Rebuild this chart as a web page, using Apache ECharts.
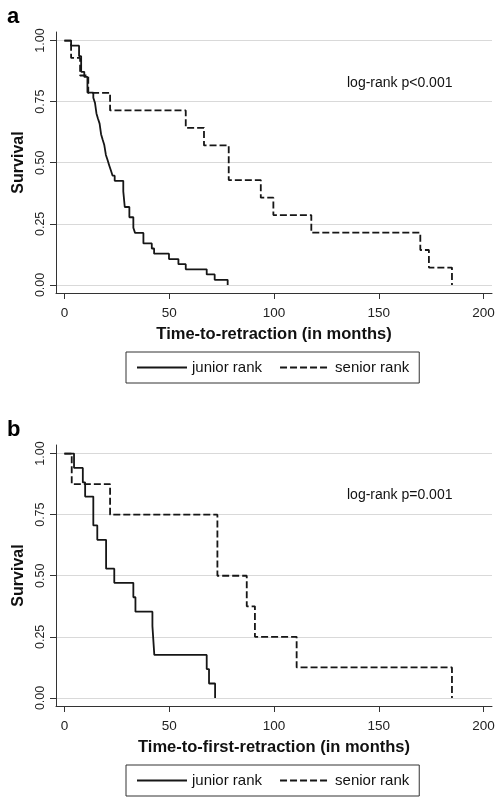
<!DOCTYPE html>
<html>
<head>
<meta charset="utf-8">
<script src="https://cdn.jsdelivr.net/npm/echarts@6/dist/echarts.min.js"></script>
<style>html,body{margin:0;padding:0;background:#fff}#c{width:504px;height:805px}</style>
</head>
<body>
<div id="c"></div>
<script>
// ---- Data ----
const xTicks = [0, 50, 100, 150, 200];
const yTicks = [0, 0.25, 0.5, 0.75, 1];
const seriesNames = ['junior rank', 'senior rank'];
const panelLabels = ['a', 'b'];
const xTitles = ['Time-to-retraction (in months)', 'Time-to-first-retraction (in months)'];
const yTitle = 'Survival';
const pTexts = ['log-rank p<0.001', 'log-rank p=0.001'];

// Panel a: junior rank
const juniorA_t = [0, 3.2, 7.0, 8.0, 9.5, 11.0, 13.8, 14.6, 15.3, 16.0, 16.8, 17.5, 18.2, 19.0, 19.8, 20.6, 21.4, 22.2, 23.0, 24.0, 28.1, 28.8, 31.0, 32.9, 33.7, 37.7, 41.7, 42.8, 49.9, 54.4, 57.9, 67.9, 71.7, 77.9];
const juniorA_s = [1, 0.979, 0.936, 0.872, 0.851, 0.787, 0.766, 0.745, 0.702, 0.681, 0.660, 0.617, 0.596, 0.574, 0.532, 0.511, 0.489, 0.468, 0.447, 0.426, 0.383, 0.319, 0.277, 0.234, 0.213, 0.170, 0.149, 0.128, 0.106, 0.085, 0.064, 0.043, 0.021, 0];
// Panel a: senior rank
const seniorA_t = [0, 3.2, 7.5, 11.4, 21.8, 57.9, 66.6, 78.4, 93.7, 99.7, 117.8, 169.8, 173.9, 184.9];
const seniorA_s = [1, 0.929, 0.857, 0.786, 0.714, 0.643, 0.571, 0.429, 0.357, 0.286, 0.214, 0.143, 0.071, 0];
// Panel b: junior rank
const juniorB_t = [0, 4.6, 8.8, 9.9, 13.8, 15.7, 19.9, 23.8, 32.9, 33.9, 42.0, 42.9, 67.9, 69.0, 71.9];
const juniorB_s = [1, 0.941, 0.882, 0.824, 0.706, 0.647, 0.529, 0.471, 0.412, 0.353, 0.294, 0.176, 0.118, 0.059, 0];
// Panel b: senior rank
const seniorB_t = [0, 3.5, 21.8, 73.0, 87.0, 90.9, 110.8, 184.9];
const seniorB_s = [1, 0.875, 0.75, 0.5, 0.375, 0.25, 0.125, 0];

// ---- Build ----
const zip = (t, s) => t.map((v, i) => [v, s[i]]);
const FONT = '"Liberation Sans", Arial, sans-serif';
const INK = '#161616';
const panelTops = [32, 445];
const GRID_H = 261;

const grids = [], xAxes = [], yAxes = [], series = [], legends = [], graphics = [];
const curves = [[juniorA_t, juniorA_s, seniorA_t, seniorA_s], [juniorB_t, juniorB_s, seniorB_t, seniorB_s]];

panelTops.forEach((top, p) => {
  grids.push({left: 56, right: 12, top: top, height: GRID_H});
  xAxes.push({
    type: 'value', gridIndex: p, min: -4, max: 204,
    axisLine: {show: true, onZero: false, lineStyle: {color: '#333', width: 1}},
    axisTick: {show: true, customValues: xTicks, length: 6, lineStyle: {color: '#333'}},
    axisLabel: {customValues: xTicks, color: '#222', fontFamily: FONT, fontSize: 13.5, margin: 13},
    splitLine: {show: false},
    name: xTitles[p], nameLocation: 'middle', nameGap: 33,
    nameTextStyle: {fontFamily: FONT, fontSize: 16.5, fontWeight: 'bold', color: '#111'}
  });
  yAxes.push({
    type: 'value', gridIndex: p, min: -0.033, max: 1.035,
    axisLine: {show: true, onZero: false, lineStyle: {color: '#333', width: 1}},
    axisTick: {show: true, customValues: yTicks, length: 6, lineStyle: {color: '#333'}},
    axisLabel: {customValues: yTicks, rotate: 90, color: '#222', fontFamily: FONT, fontSize: 12.5, margin: 9,
      formatter: v => v.toFixed(2)},
    splitLine: {show: false},
    name: yTitle, nameLocation: 'middle', nameGap: 29,
    nameTextStyle: {fontFamily: FONT, fontSize: 16, fontWeight: 'bold', color: '#111'}
  });
  // gridlines (drawn beneath the curves)
  series.push({
    type: 'line', xAxisIndex: p, yAxisIndex: p, data: [], silent: true, z: 0,
    markLine: {silent: true, z: 0, symbol: 'none', label: {show: false},
      lineStyle: {color: '#d9d9d9', width: 1.2, type: 'solid'},
      data: yTicks.map(v => ({yAxis: v}))}
  });
  const c = curves[p];
  series.push({
    name: seriesNames[0], type: 'line', step: 'end', xAxisIndex: p, yAxisIndex: p, z: 6,
    data: zip(c[0], c[1]), showSymbol: false, symbol: 'none', animation: false,
    lineStyle: {color: INK, width: 1.8, type: 'solid'}, itemStyle: {color: INK}
  });
  series.push({
    name: seriesNames[1], type: 'line', step: 'end', xAxisIndex: p, yAxisIndex: p, z: 6,
    data: zip(c[2], c[3]), showSymbol: false, symbol: 'none', animation: false,
    lineStyle: {color: INK, width: 1.8, type: [7, 3]}, itemStyle: {color: INK}
  });
  legends.push({
    data: seriesNames, left: 126, top: top + 320, orient: 'horizontal',
    itemWidth: 50, itemHeight: 14, itemGap: 17,
    padding: [8, 10, 8, 10], borderColor: '#333', borderWidth: 1,
    itemStyle: {opacity: 0},
    textStyle: {fontFamily: FONT, fontSize: 15, color: '#111'},
    selectedMode: false
  });
  graphics.push({type: 'text', left: 7, top: top - 26,
    style: {text: panelLabels[p], font: 'bold 22px ' + FONT, fill: '#000'}});
  graphics.push({type: 'text', left: 347, top: top + 44 + (p === 1 ? -0.5 : 0),
    style: {text: pTexts[p], font: '14px ' + FONT, fill: '#111'}});
});

const chart = echarts.init(document.getElementById('c'), null, {renderer: 'canvas'});
chart.setOption({
  animation: false,
  backgroundColor: '#fff',
  grid: grids, xAxis: xAxes, yAxis: yAxes, series: series, legend: legends, graphic: graphics
});
</script>
</body>
</html>
